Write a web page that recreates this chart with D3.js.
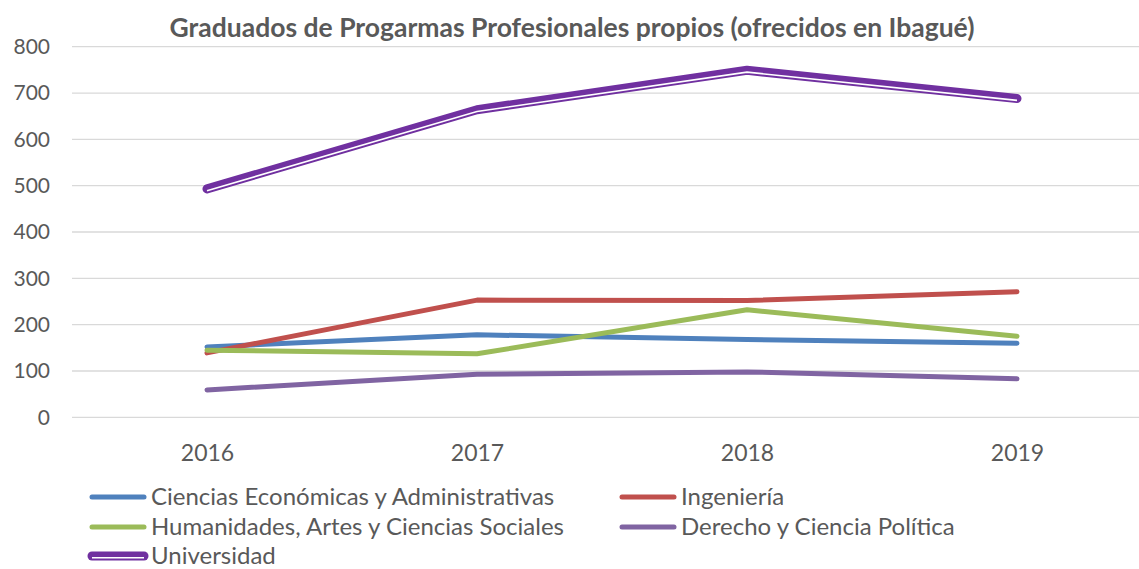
<!DOCTYPE html>
<html>
<head>
<meta charset="utf-8">
<script src="https://cdn.jsdelivr.net/npm/d3@7"></script>
<style>
  body { margin: 0; background: #fff; }
  svg { font-family: Lato, "Open Sans", sans-serif; }
</style>
</head>
<body>
<div id="chart"></div>
<script>
var years = ["2016", "2017", "2018", "2019"];
var yTicks = [0, 100, 200, 300, 400, 500, 600, 700, 800];

var economicas = [152, 178, 168, 160];
var ingenieria = [139, 253, 252, 271];
var humanidades = [145, 137, 232, 175];
var derecho = [59, 93, 98, 83];
var universidad = [493, 664, 749, 688];

var series = [
  { name: "Ciencias Económicas y Administrativas", values: economicas, color: "#4f81bd" },
  { name: "Ingeniería", values: ingenieria, color: "#c0504d" },
  { name: "Humanidades, Artes y Ciencias Sociales", values: humanidades, color: "#9bbb59" },
  { name: "Derecho y Ciencia Política", values: derecho, color: "#8064a2" },
  { name: "Universidad", values: universidad, color: "#7030a0", double: true }
];

var width = 1139, height = 569;

var svg = d3.select("#chart").append("svg")
  .attr("width", width)
  .attr("height", height);

var x = d3.scalePoint()
  .domain(years)
  .range([72, 1152])
  .padding(0.5);

var y = d3.scaleLinear()
  .domain([0, 800])
  .range([417.3, 46.7]);

// title
svg.append("text")
  .attr("x", 572)
  .attr("y", 37)
  .attr("text-anchor", "middle")
  .style("font-size", "26.5px")
  .style("font-weight", "bold")
  .style("fill", "#595959")
  .text("Graduados de Progarmas Profesionales propios (ofrecidos en Ibagué)");

// gridlines
svg.append("g").selectAll("line")
  .data(yTicks)
  .enter().append("line")
  .attr("x1", 72).attr("x2", width)
  .attr("y1", d => y(d)).attr("y2", d => y(d))
  .style("stroke", "#d9d9d9")
  .style("stroke-width", 1.3);

// y axis
var yAxis = svg.append("g")
  .attr("transform", "translate(58,0)")
  .call(d3.axisLeft(y).tickValues(yTicks).tickSize(0).tickPadding(8));
yAxis.select(".domain").remove();
yAxis.selectAll("text")
  .style("font-family", "Lato, sans-serif")
  .style("font-size", "21px")
  .style("fill", "#595959");

// x axis
var xAxis = svg.append("g")
  .attr("transform", "translate(0,437)")
  .call(d3.axisBottom(x).tickSize(0).tickPadding(8));
xAxis.select(".domain").remove();
xAxis.selectAll("text")
  .style("font-family", "Lato, sans-serif")
  .style("font-size", "23px")
  .style("fill", "#595959");

var line = d3.line()
  .x((d, i) => x(years[i]))
  .y(d => y(d));

series.forEach(function(s) {
  if (s.double) {
    svg.append("path")
      .attr("d", line(s.values))
      .style("fill", "none")
      .style("stroke", s.color)
      .style("stroke-width", 9)
      .style("stroke-linecap", "round")
      .style("stroke-linejoin", "round");
    svg.append("path")
      .attr("d", line(s.values))
      .attr("transform", "translate(0,1.8)")
      .style("fill", "none")
      .style("stroke", "#fff")
      .style("stroke-width", 1.6)
      .style("stroke-linecap", "butt");
  } else {
    svg.append("path")
      .attr("d", line(s.values))
      .style("fill", "none")
      .style("stroke", s.color)
      .style("stroke-width", 5)
      .style("stroke-linecap", "round")
      .style("stroke-linejoin", "round");
  }
});

// legend
var legendPos = [
  { x: 90, y: 497 }, { x: 620, y: 497 },
  { x: 90, y: 527 }, { x: 620, y: 527 },
  { x: 90, y: 556 }
];

var legend = svg.append("g").selectAll("g")
  .data(series)
  .enter().append("g")
  .attr("transform", (d, i) => "translate(" + legendPos[i].x + "," + legendPos[i].y + ")");

legend.append("line")
  .attr("x1", 2).attr("x2", 54)
  .style("stroke", d => d.color)
  .style("stroke-width", d => d.double ? 9 : 5)
  .style("stroke-linecap", "round");

legend.filter(d => d.double).append("line")
  .attr("x1", 2).attr("x2", 54)
  .attr("y1", 1.8).attr("y2", 1.8)
  .style("stroke", "#fff")
  .style("stroke-width", 1.6);

legend.append("text")
  .attr("x", 61)
  .attr("y", 8)
  .style("font-size", "24px")
  .style("fill", "#595959")
  .text(d => d.name);
</script>
</body>
</html>
